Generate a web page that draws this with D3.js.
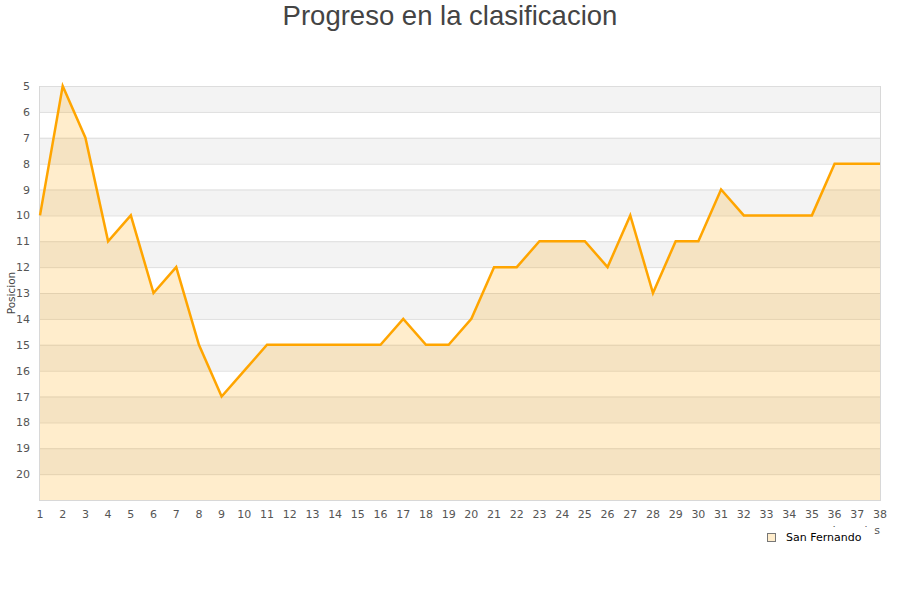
<!DOCTYPE html>
<html><head><meta charset="utf-8">
<script src="https://cdn.jsdelivr.net/npm/d3@7"></script>
<style>body{margin:0;background:#fff}svg{display:block}</style>
</head><body>
<svg id="c" width="900" height="600"></svg>
<script>
const jornadas = d3.range(1, 39);
const posiciones = [10,5,7,11,10,13,12,15,17,16,15,15,15,15,15,15,14,15,15,14,12,12,11,11,11,12,10,13,11,11,9,10,10,10,10,8,8,8];
const yTicks = d3.range(5, 21);
const seriesName = "San Fernando";
const title = "Progreso en la clasificacion";
const yTitle = "Posicion";
const xTitle = "Jornadas";

const svg = d3.select("#c");
const L = 40, R = 880, T = 86, B = 500;
const x = d3.scaleLinear().domain([1, 38]).range([L, R]);
const y = d3.scaleLinear().domain([5, 21]).range([T, B]);

// bands
svg.append("g").selectAll("rect").data(d3.range(5, 21)).join("rect")
  .attr("x", L).attr("width", R - L)
  .attr("y", d => y(d)).attr("height", d => y(d + 1) - y(d))
  .attr("fill", d => d % 2 === 1 ? "#f3f3f3" : "#ffffff");
// grid
svg.append("g").selectAll("line").data(d3.range(5, 22)).join("line")
  .attr("x1", L).attr("x2", R).attr("y1", d => y(d) + 0.5).attr("y2", d => y(d) + 0.5)
  .attr("stroke", "#dddddd").attr("stroke-width", 1);
// frame
svg.append("line").attr("x1", L - 0.5).attr("x2", L - 0.5).attr("y1", T).attr("y2", B + 1).attr("stroke", "#d8d8d8");
svg.append("line").attr("x1", R + 0.5).attr("x2", R + 0.5).attr("y1", T).attr("y2", B + 1).attr("stroke", "#d8d8d8");
svg.append("line").attr("x1", L).attr("x2", R).attr("y1", B + 0.5).attr("y2", B + 0.5).attr("stroke", "#d8d8d8");

const data = jornadas.map((j, i) => ({j, p: posiciones[i]}));
svg.append("path").datum(data)
  .attr("d", d3.area().x(d => x(d.j)).y0(B).y1(d => y(d.p)))
  .attr("fill", "orange").attr("fill-opacity", 0.2);
svg.append("path").datum(data)
  .attr("d", d3.line().x(d => x(d.j)).y(d => y(d.p)))
  .attr("fill", "none").attr("stroke", "orange").attr("stroke-width", 2.5).attr("stroke-linejoin", "miter");

// y axis labels
svg.append("g").selectAll("text").data(yTicks).join("text")
  .attr("x", 30).attr("y", d => y(d) + 4).attr("text-anchor", "end")
  .attr("font-family", "DejaVu Sans").attr("font-size", 11).attr("fill", "#555")
  .text(d => d);
// x axis labels
svg.append("g").selectAll("text").data(jornadas).join("text")
  .attr("x", d => x(d)).attr("y", 518).attr("text-anchor", "middle")
  .attr("font-family", "DejaVu Sans").attr("font-size", 11).attr("fill", "#555")
  .text(d => d);

svg.append("text").attr("transform", "translate(15,293) rotate(-90)")
  .attr("text-anchor", "middle").attr("font-family", "DejaVu Sans").attr("font-size", 10.5).attr("fill", "#444")
  .text(yTitle);

svg.append("text").attr("x", 880).attr("y", 534).attr("text-anchor", "end")
  .attr("font-family", "DejaVu Sans").attr("font-size", 11).attr("fill", "#555").text(xTitle);

// legend
const lg = svg.append("g");
lg.append("rect").attr("x", 758).attr("y", 527).attr("width", 116).attr("height", 24).attr("fill", "#fff");
lg.append("rect").attr("x", 767.5).attr("y", 533.5).attr("width", 8).attr("height", 8)
  .attr("fill", "#ffedcc").attr("stroke", "#777").attr("stroke-width", 1);
lg.append("text").attr("x", 786).attr("y", 541).attr("font-family", "DejaVu Sans").attr("font-size", 11).attr("fill", "#000").text(seriesName);

svg.append("text").attr("x", 450).attr("y", 25).attr("text-anchor", "middle")
  .attr("font-family", "Liberation Sans").attr("font-size", 27.5).attr("fill", "#444").text(title);
</script>
</body></html>
